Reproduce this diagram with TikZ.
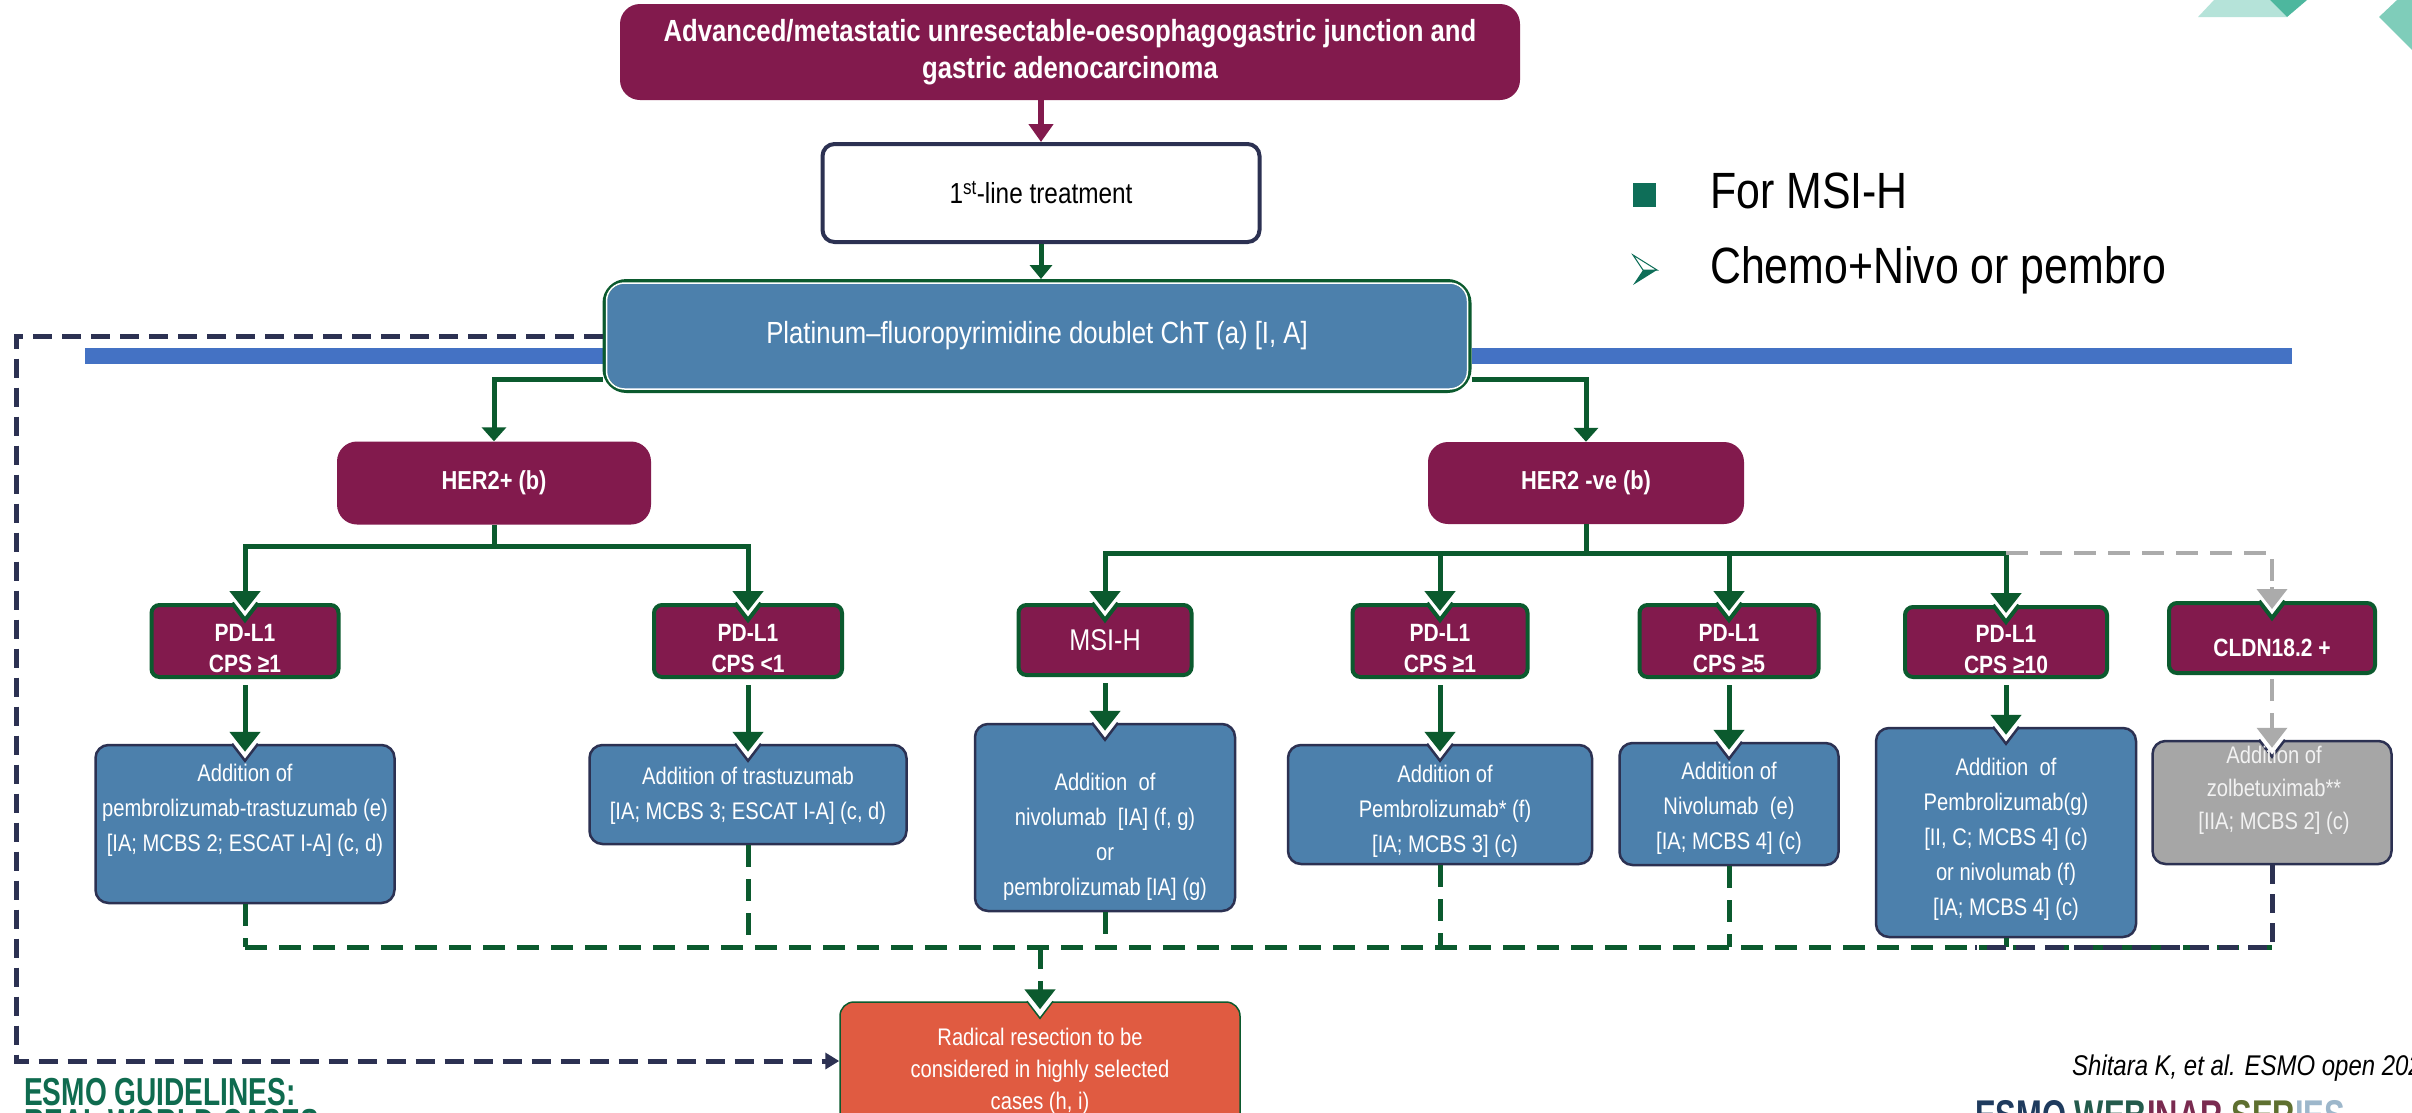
\documentclass[tikz,border=0pt]{standalone}
\usepackage{fontspec}
\setmainfont{Liberation Sans}[FakeStretch=0.84]
\newfontfamily\condensedfont{Liberation Sans}[FakeStretch=0.72]
\usetikzlibrary{arrows.meta}

\definecolor{cMaroon}{HTML}{821A4D}
\definecolor{cGreen}{HTML}{0B5A2E}
\definecolor{cSteel}{HTML}{4C80AC}
\definecolor{cNavy}{HTML}{2C3152}
\definecolor{cBar}{HTML}{4472C4}
\definecolor{cRad}{HTML}{E05B41}
\definecolor{cGreyBox}{HTML}{A6A6A6}
\definecolor{cGreyDash}{HTML}{ABABAB}
\definecolor{cPale}{HTML}{F2F2F2}
\definecolor{cTeal}{HTML}{0E6E58}
\definecolor{cEsmo}{HTML}{0F6B4F}
\definecolor{cTealLight}{HTML}{B5E3D9}
\definecolor{cTealMid}{HTML}{4DB79E}
\definecolor{cTealSide}{HTML}{7FCDBA}
\definecolor{cWa}{HTML}{1F3B5E}
\definecolor{cWb}{HTML}{245B4C}
\definecolor{cWc}{HTML}{7A2B50}
\definecolor{cWd}{HTML}{5E7030}
\definecolor{cWe}{HTML}{9DB7CB}

% white V cut into the top edge of a box, outlined in the box border colour
\newcommand{\boxnotch}[2]{%
  \fill[white] ([xshift=-17.6pt,yshift=6pt]#1.north) -- ([xshift=17.6pt,yshift=6pt]#1.north)
    -- ([yshift=-17pt]#1.north) -- cycle;
  \draw[#2, line join=miter] ([xshift=-13pt]#1.north) -- ([yshift=-17pt]#1.north)
    -- ([xshift=13pt]#1.north);
}

\tikzset{
  txt/.style={text=white, align=center, inner sep=0pt},
  topbox/.style={fill=cMaroon, rounded corners=20pt, txt,
    font=\bfseries\fontsize{30.6}{37}\selectfont},
  firstbox/.style={fill=white, draw=cNavy, line width=4pt, rounded corners=12pt,
    align=center, inner sep=0pt, font=\fontsize{29}{34}\selectfont},
  platbox/.style={fill=cSteel, draw=cGreen, line width=4pt, rounded corners=22pt, txt,
    font=\fontsize{30.6}{36}\selectfont},
  herbox/.style={fill=cMaroon, rounded corners=20pt, txt,
    font=\bfseries\fontsize{26}{30}\selectfont},
  pdbox/.style={fill=cMaroon, draw=cGreen, line width=4pt, rounded corners=8pt, txt,
    font=\fontsize{30}{34}\selectfont},
  bbox/.style={fill=cSteel, draw=cNavy, line width=2.5pt, rounded corners=13pt},
  greybox/.style={bbox, fill=cGreyBox},
  radbox/.style={fill=cRad, draw=cGreen, line width=1.5pt, rounded corners=14pt},
  pdtext/.style={txt, font=\bfseries\fontsize{25}{31}\selectfont},
  btext/.style={txt, font=\fontsize{24}{35}\selectfont},
  gline/.style={draw=cGreen, line width=5pt},
  pline/.style={draw=cMaroon, line width=6pt},
  gtip/.style={-{Triangle[width=30pt,length=20pt]}, shorten >=-8pt},
  htip/.style={-{Triangle[width=24pt,length=14pt]}},
  gdash/.style={draw=cGreen, line width=5pt, dash pattern=on 22pt off 12pt},
  ndash/.style={draw=cNavy, line width=5pt, dash pattern=on 19pt off 10pt},
  greydash/.style={draw=cGreyDash, line width=4pt, dash pattern=on 22pt off 12pt},
  greytip/.style={-{Triangle[width=30pt,length=20pt]}, shorten >=-8pt},
}

\begin{document}
\begin{tikzpicture}[x=1pt, y=-1pt]
\useasboundingbox (0,0) rectangle (2412,1112);
\clip (0,0) rectangle (2412,1112);
\fill[white] (0,0) rectangle (2412,1112);

% corner ornaments
\fill[cTealLight] (2198,17) -- (2287,17) -- (2270,0) -- (2214,0) -- cycle;
\fill[cTealMid] (2270,0) -- (2307,0) -- (2287,17) -- cycle;
\fill[cTealSide] (2379,17) -- (2397,0) -- (2412,0) -- (2412,50) -- cycle;

% horizontal rule behind the chemotherapy box
\fill[cBar] (85,348) rectangle (605,364);
\fill[cBar] (1472,348) rectangle (2292,364);

% boxes
\node[topbox, minimum width=900pt, minimum height=96pt] (top) at (1070,52)
  {Advanced/metastatic unresectable-oesophagogastric junction and\\gastric adenocarcinoma};
\node[firstbox, minimum width=437pt, minimum height=98pt] (first) at (1041,193)
  {1\textsuperscript{st}-line treatment};
\node[platbox, minimum width=865pt, minimum height=110pt] (plat) at (1037,336)
  {Platinum–fluoropyrimidine doublet ChT (a) [I, A]};
\draw[white, line width=1.5pt, rounded corners=18pt]
  ([shift={(4pt,-4pt)}]plat.north west) rectangle ([shift={(-4pt,4pt)}]plat.south east);

\node[herbox, minimum width=314pt, minimum height=83pt] (her2p) at (494,483) {HER2+ (b)};
\node[herbox, minimum width=316pt, minimum height=82pt] (her2n) at (1586,483) {HER2 -ve (b)};

\node[pdbox, minimum width=187pt, minimum height=72pt] (pd1) at (245,641) {};
\node[pdbox, minimum width=188pt, minimum height=72pt] (pd2) at (748,641) {};
\node[pdbox, minimum width=173pt, minimum height=70pt] (msi) at (1105,640) {MSI-H};
\node[pdbox, minimum width=175pt, minimum height=72pt] (pd3) at (1440,641) {};
\node[pdbox, minimum width=179pt, minimum height=72pt] (pd4) at (1729,641) {};
\node[pdbox, minimum width=202pt, minimum height=70pt] (pd5) at (2006,642) {};
\node[pdbox, minimum width=206pt, minimum height=70pt] (cldn) at (2272,638) {};

\node[bbox, minimum width=299pt, minimum height=158pt] (b1) at (245,824) {};
\node[bbox, minimum width=317pt, minimum height=99pt] (b2) at (748,794.5) {};
\node[bbox, minimum width=260pt, minimum height=187pt] (b3) at (1105,817.5) {};
\node[bbox, minimum width=304pt, minimum height=119pt] (b4) at (1440,804.5) {};
\node[bbox, minimum width=219pt, minimum height=122pt] (b5) at (1729,804) {};
\node[bbox, minimum width=260pt, minimum height=209pt] (b6) at (2006,832.5) {};
\node[greybox, minimum width=239pt, minimum height=123pt] (b7) at (2272,802.5) {};
\node[radbox, minimum width=400pt, minimum height=128pt] (rad) at (1040,1066) {};

% notches where the arrows enter
\foreach \n in {pd1,pd2,msi,pd3,pd4,pd5,cldn} {\boxnotch{\n}{cGreen, line width=4pt}}
\foreach \n in {b1,b2,b3,b4,b5,b6,b7} {\boxnotch{\n}{cNavy, line width=2.5pt}}
\boxnotch{rad}{cGreen, line width=1.5pt}

% main trunk
\draw[pline, -{Triangle[width=24pt,length=18pt]}] (first.north |- top.south) -- (first.north);
\draw[gline, -{Triangle[width=22pt,length=14pt]}] (first.south) -- (first.south |- plat.north);
\draw[gline, htip] ([yshift=14pt]plat.south west) -| (her2p.north);
\draw[gline, htip] ([yshift=14pt]plat.south east) -| (her2n.north);

% HER2-positive branch
\coordinate (j1) at (494,546);
\draw[gline] (her2p.south) -- (j1);
\draw[gline, gtip] (j1) -| (pd1.north);
\draw[gline, gtip] (j1) -| (pd2.north);

% HER2-negative branch
\coordinate (j2) at (1586,553);
\draw[gline] (her2n.south) -- (j2);
\draw[gline, gtip] (j2) -| (msi.north);
\draw[gline, gtip] (j2) -| (pd3.north);
\draw[gline, gtip] (j2) -| (pd4.north);
\draw[gline, gtip] (j2) -| (pd5.north);
\draw[greydash] (pd5.north |- j2) -| ([yshift=12pt]cldn.north);
\draw[cGreyDash, line width=4pt, greytip] ([yshift=14pt]cldn.north) -- (cldn.north);

% biomarker to treatment
\draw[gline, gtip, shorten <=6pt] (pd1.south) -- (b1.north);
\draw[gline, gtip, shorten <=6pt] (pd2.south) -- (b2.north);
\draw[gline, gtip, shorten <=6pt] (msi.south) -- (b3.north);
\draw[gline, gtip, shorten <=6pt] (pd3.south) -- (b4.north);
\draw[gline, gtip, shorten <=6pt] (pd4.south) -- (b5.north);
\draw[gline, gtip, shorten <=6pt] (pd5.south) -- (b6.north);
\draw[greydash, shorten <=4pt] (cldn.south) -- ([yshift=14pt]b7.north);
\draw[cGreyDash, line width=4pt, greytip] ([yshift=16pt]b7.north) -- (b7.north);

% collector to resection
\coordinate (hb) at (0,947);
\foreach \b in {b1,b2,b3,b4,b5,b6} {\draw[gdash] (\b.south) -- (\b.south |- hb);}
\draw[gdash] (b1.south |- hb) -- (b7.south |- hb);
\coordinate (nvend) at (1975,947);
\draw[ndash] (b7.south) -- (b7.south |- hb) -- (nvend);
\draw[gdash, -{Triangle[width=30pt,length=20pt]}, shorten >=-8pt] (rad.north |- hb) -- (rad.north);

% direct route from chemotherapy to resection
\coordinate (lc) at (16,1061);
\draw[ndash, -{Triangle[width=16pt,length=14pt]}] (plat.west) -| (lc) -- (rad.west |- lc);

% box texts
\node[pdtext] (pd1t) at (245,649) {PD-L1\\CPS ≥1};
\node[pdtext] (pd2t) at (748,649) {PD-L1\\CPS <1};
\node[pdtext] (pd3t) at (1440,649) {PD-L1\\CPS ≥1};
\node[pdtext] (pd4t) at (1729,649) {PD-L1\\CPS ≥5};
\node[pdtext] (pd5t) at (2006,650) {PD-L1\\CPS ≥10};
\node[pdtext] (cldnt) at (2272,648) {CLDN18.2 +};

\node[btext] (b1t) at (245,810) {Addition of\\pembrolizumab-trastuzumab (e)\\{}[IA; MCBS 2; ESCAT I-A] (c, d)};
\node[btext] (b2t) at (748,796) {Addition of trastuzumab\\{}[IA; MCBS 3; ESCAT I-A] (c, d)};
\node[btext] (b3t) at (1105,837) {Addition\ \ of\\nivolumab\ \ [IA] (f, g)\\or\\pembrolizumab [IA] (g)};
\node[btext] (b4t) at (1445,811) {Addition of\\Pembrolizumab* (f)\\{}[IA; MCBS 3] (c)};
\node[btext] (b5t) at (1729,808) {Addition of\\Nivolumab\ \ (e)\\{}[IA; MCBS 4] (c)};
\node[btext] (b6t) at (2006,839) {Addition\ \ of\\Pembrolizumab(g)\\{}[II, C; MCBS 4] (c)\\or nivolumab (f)\\{}[IA; MCBS 4] (c)};
\node[btext, text=cPale, font=\fontsize{24}{33}\selectfont] (b7t) at (2274,790) {Addition of\\zolbetuximab**\\{}[IIA; MCBS 2] (c)};
\node[btext, font=\fontsize{24}{32}\selectfont] (radt) at (1040,1071) {Radical resection to be\\considered in highly selected\\cases (h, i)};

% key on the right
\fill[cTeal] (1633,183) rectangle (1656,207);
\node[anchor=base west, inner sep=0pt, font=\fontsize{51}{60}\selectfont] (msih) at (1710,208) {For MSI-H};
\fill[cTeal] (1633,285) -- (1657,270) -- (1643,270) -- cycle;
\draw[cTeal, line width=1pt, line join=miter] (1633,255) -- (1657,270) -- (1643,270) -- cycle;
\node[anchor=base west, inner sep=0pt, font=\fontsize{51}{60}\selectfont] (chemo) at (1710,283) {Chemo+Nivo or pembro};

% footer
\node[anchor=base west, inner sep=0pt, text=cEsmo, font=\condensedfont\bfseries\fontsize{39}{39}\selectfont] (esmo) at (24,1105) {ESMO GUIDELINES:};
\node[anchor=base west, inner sep=0pt, text=cEsmo, font=\condensedfont\bfseries\fontsize{39}{39}\selectfont] (real) at (24,1136) {REAL WORLD CASES};
\node[anchor=base west, inner sep=0pt, font=\itshape\fontsize{28.5}{30}\selectfont] (cite) at (2072,1075) {Shitara K, et al. ESMO open 2023};
\node[anchor=base west, inner sep=0pt, font=\condensedfont\bfseries\fontsize{43}{43}\selectfont] (webinar) at (1975,1130)
  {\textcolor{cWa}{ESMO} \textcolor{cWb}{WEB}\textcolor{cWc}{INAR} \textcolor{cWd}{SER}\textcolor{cWe}{IES}};
\end{tikzpicture}
\end{document}
